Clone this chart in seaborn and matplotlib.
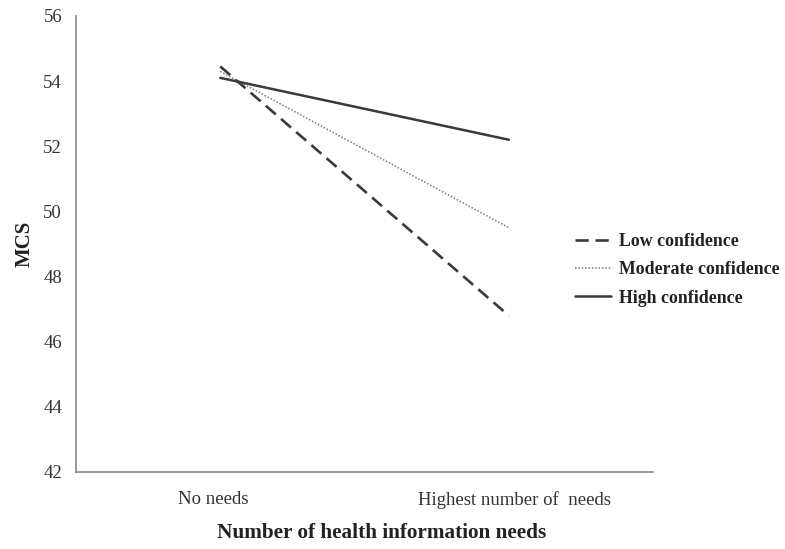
import matplotlib
matplotlib.use("Agg")
import matplotlib.pyplot as plt
import matplotlib.transforms as mtransforms
import seaborn as sns
import pandas as pd

categories = ["No needs", "Highest number of  needs"]
low_conf = [54.45, 46.8]
moderate_conf = [54.3, 49.5]
high_conf = [54.1, 52.2]
series_names = ["Low confidence", "Moderate confidence", "High confidence"]
y_ticks = [42, 44, 46, 48, 50, 52, 54, 56]

sns.set_theme(style="white")
plt.rcParams["font.family"] = ["Liberation Serif", "DejaVu Serif"]

rows = []
for name, vals in zip(series_names, [low_conf, moderate_conf, high_conf]):
    for i, v in enumerate(vals):
        rows.append({"pos": i, "MCS": v, "group": name})
df = pd.DataFrame(rows)

fig = plt.figure(figsize=(7.85, 5.49), dpi=100)
ax = fig.add_axes([0.0968, 0.1403, 0.7352, 0.8306])

styles = {
    "Low confidence": dict(color="#3a3a3a", linewidth=1.9, linestyle=(0, (5, 2.6))),
    "Moderate confidence": dict(color="#7a7a7a", linewidth=1.1, linestyle=(0, (1, 1.2))),
    "High confidence": dict(color="#3a3a3a", linewidth=1.8, linestyle="-"),
}
for name in series_names:
    sns.lineplot(data=df[df["group"] == name], x="pos", y="MCS", ax=ax,
                 label=name, **styles[name])

ax.set_xlim(-0.5, 1.5)
ax.set_ylim(42, 56)
ax.set_yticks(y_ticks)
ax.set_yticklabels([str(t) for t in y_ticks], fontsize=13.5, color="#333333")

# category boundary ticks with labels centred between them
ax.set_xticks([-0.5, 0.5, 1.5])
ax.set_xticklabels([])
ax.set_xticks([0, 1], minor=True)
ax.set_xticklabels(categories, minor=True, fontsize=13.5, color="#333333")
ax.tick_params(axis="x", which="minor", length=0, pad=14)
ax.tick_params(axis="x", which="major", direction="out", length=5, width=1, color="#888888")
ax.tick_params(axis="y", direction="out", length=4, width=1, color="#888888", pad=6)

# small horizontal nudges of the category labels
for lbl, dx in zip(ax.get_xticklabels(minor=True), [-7, 6]):
    lbl.set_transform(lbl.get_transform() +
                      mtransforms.ScaledTranslation(dx / 100, 0, fig.dpi_scale_trans))

for side in ["top", "right"]:
    ax.spines[side].set_visible(False)
for side in ["left", "bottom"]:
    ax.spines[side].set_color("#888888")
    ax.spines[side].set_linewidth(1.2)

ax.set_xlabel("Number of health information needs", fontsize=15.3, fontweight="bold",
              color="#222222")
ax.xaxis.set_label_coords(0.529, -0.112)
ax.set_ylabel("MCS", fontsize=15, fontweight="bold", color="#222222", labelpad=6)

leg = ax.legend(loc="center left", bbox_to_anchor=(0.8375, 0.443), frameon=False,
                handlelength=2.0, handletextpad=0.45, labelspacing=0.62,
                prop={"size": 12.9, "weight": "bold"})
for t in leg.get_texts():
    t.set_color("#222222")

fig.savefig("out.png", dpi=100)
